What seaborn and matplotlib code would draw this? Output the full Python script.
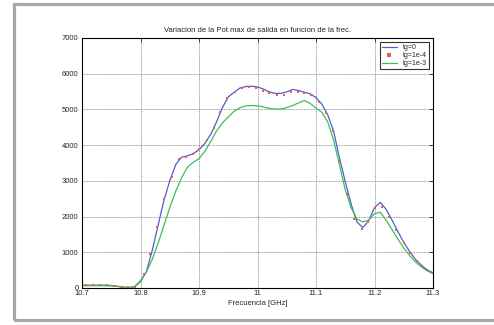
import seaborn as sns
import matplotlib.pyplot as plt
import matplotlib.patches as mpatches
import pandas as pd

# frequency grid (GHz) for the two solid curves
freq = [10.70, 10.71, 10.72, 10.73, 10.74, 10.75, 10.76, 10.77, 10.78, 10.79,
        10.80, 10.81, 10.82, 10.83, 10.84, 10.85, 10.86, 10.87, 10.88, 10.89,
        10.90, 10.91, 10.92, 10.93, 10.94, 10.95, 10.96, 10.97, 10.98, 10.99,
        11.00, 11.01, 11.02, 11.03, 11.04, 11.05, 11.06, 11.07, 11.08, 11.09,
        11.10, 11.11, 11.12, 11.13, 11.14, 11.15, 11.16, 11.17, 11.18, 11.19,
        11.20, 11.21, 11.22, 11.23, 11.24, 11.25, 11.26, 11.27, 11.28, 11.29,
        11.30]

# tg=0
pot_tg0 = [75, 78, 80, 80, 78, 70, 50, 25, 12, 40,
           200, 450, 1050, 1750, 2450, 3000, 3450, 3660, 3700, 3760,
           3870, 4050, 4300, 4650, 5050, 5350, 5480, 5600, 5640, 5650,
           5630, 5570, 5490, 5450, 5450, 5490, 5560, 5530, 5480, 5440,
           5330, 5150, 4850, 4400, 3650, 2980, 2350, 1850, 1690, 1880,
           2250, 2400, 2200, 1900, 1580, 1280, 1020, 800, 640, 510,
           420]

# tg=1e-3
pot_tg3 = [60, 62, 64, 64, 62, 58, 45, 22, 10, 35,
           170, 450, 800, 1250, 1750, 2250, 2700, 3080, 3380, 3520,
           3620, 3830, 4100, 4400, 4620, 4790, 4950, 5050, 5100, 5110,
           5100, 5070, 5030, 5010, 5010, 5050, 5110, 5180, 5250, 5170,
           5040, 4920, 4650, 4150, 3450, 2750, 2250, 1930, 1850, 1900,
           2080, 2120, 1900, 1630, 1370, 1120, 910, 730, 590, 480,
           400]

# tg=1e-4 (dots)
freq_dots = [10.706, 10.718, 10.730, 10.742, 10.754, 10.766, 10.778, 10.790,
             10.806, 10.817, 10.829, 10.840, 10.853, 10.865, 10.877, 10.889,
             10.900, 10.913, 10.925, 10.936, 10.948, 10.961, 10.973, 10.985,
             10.997, 11.010, 11.020, 11.033, 11.045, 11.058, 11.070, 11.080,
             11.092, 11.105, 11.117, 11.129, 11.141, 11.153, 11.165, 11.178,
             11.189, 11.201, 11.213, 11.225, 11.237, 11.250, 11.260, 11.272,
             11.285, 11.297]
pot_tg4 = [85, 85, 85, 80, 60, 35, 15, 40,
           380, 960, 1710, 2480, 3110, 3600, 3670, 3740,
           3880, 4130, 4490, 4930, 5310, 5490, 5590, 5620,
           5600, 5510, 5450, 5410, 5410, 5500, 5500, 5450,
           5400, 5210, 4910, 4400, 3570, 2640, 1940, 1640,
           1850, 2250, 2280, 1980, 1620, 1270, 990, 760,
           570, 440]

xticks = [10.7, 10.8, 10.9, 11.0, 11.1, 11.2, 11.3]
xtick_labels = ["10.7", "10.8", "10.9", "11", "11.1", "11.2", "11.3"]
yticks = [0, 1000, 2000, 3000, 4000, 5000, 6000, 7000]

sns.set_style("white")
plt.rcParams['font.family'] = ['Liberation Sans', 'DejaVu Sans']

c_blue = "#4f5cd2"
c_red = "#f0584a"
c_green = "#3cbf55"

lines = pd.DataFrame({"f": freq, "tg0": pot_tg0, "tg3": pot_tg3})
dots = pd.DataFrame({"f": freq_dots, "tg4": pot_tg4})

fig = plt.figure(figsize=(4.94, 3.25), dpi=100)
fig.patches.append(mpatches.Rectangle((13.5 / 494, 5.5 / 325), 1.2, 315.5 / 325,
                                      transform=fig.transFigure, fill=False,
                                      edgecolor="#a3a9ae", linewidth=2.3))
ax = fig.add_axes([82 / 494, 37 / 325, 351 / 494, 250 / 325])

sns.lineplot(data=lines, x="f", y="tg0", ax=ax, color=c_blue, linewidth=0.9, label="tg=0")
sns.scatterplot(data=dots, x="f", y="tg4", ax=ax, color=c_red, s=3.5, marker="s",
                linewidth=0, label="tg=1e-4", zorder=3)
sns.lineplot(data=lines, x="f", y="tg3", ax=ax, color=c_green, linewidth=0.9, label="tg=1e-3")

ax.set_xlim(10.7, 11.3)
ax.set_ylim(0, 7000)
ax.set_xticks(xticks)
ax.set_xticklabels(xtick_labels)
ax.set_yticks(yticks)
ax.tick_params(direction="in", length=3, width=0.6, labelsize=5.5, pad=1.5,
               top=True, right=True)
ax.tick_params(axis="y", pad=2.5)
for s in ax.spines.values():
    s.set_linewidth(0.8)
    s.set_color("black")
ax.grid(True, linestyle=(0, (1, 1)), color="#777777", linewidth=0.6)

ax.set_title("Variacion de la Pot max de salida en funcion de la frec.", fontsize=5.5, pad=4)
ax.set_xlabel("Frecuencia [GHz]", fontsize=5.5, labelpad=2)
ax.set_ylabel("")

leg = ax.legend(loc="upper right", fontsize=5, frameon=True, fancybox=False,
                handlelength=2.2, borderpad=0.3, labelspacing=0.15,
                borderaxespad=0.6, handletextpad=0.8, markerscale=1.2)
leg.get_frame().set_edgecolor("black")
leg.get_frame().set_linewidth(0.8)

fig.savefig("out.png", dpi=100)
